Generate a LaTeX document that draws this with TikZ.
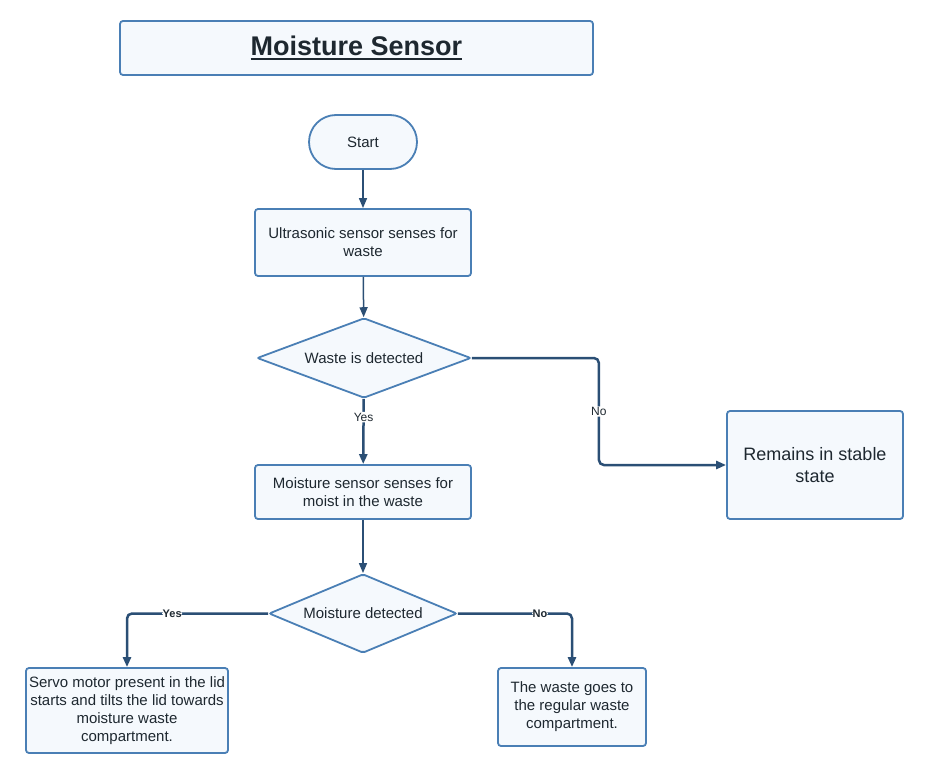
\documentclass[tikz,border=0pt]{standalone}
\usepackage{fontspec}
\setmainfont{Liberation Sans}
\usetikzlibrary{shapes.geometric,arrows.meta}
\definecolor{boxline}{HTML}{4A7FB5}
\definecolor{boxfill}{HTML}{F5F9FD}
\definecolor{arrowline}{HTML}{2B4F75}
\definecolor{txt}{HTML}{1E2830}
\newsavebox{\ulbox}
\newcommand{\ultitle}[1]{\sbox{\ulbox}{#1}\usebox{\ulbox}\llap{\rule[-4pt]{\wd\ulbox}{2pt}}}
\tikzset{
  box/.style={draw=boxline, fill=boxfill, line width=1.8pt, rounded corners=3pt, inner sep=0pt, align=center, text=txt, font=\fontsize{15}{18}\selectfont},
  startbox/.style={box, rounded corners=27pt},
  decision/.style={box, diamond, rounded corners=2pt, aspect=2.7},
  flow/.style={draw=arrowline, line width=1.5pt, -{Triangle[length=10pt,width=8pt]}},
  flowthick/.style={flow, line width=2.5pt, rounded corners=5pt},
  lbl/.style={fill=white, inner sep=1pt, text=txt, font=\fontsize{12}{14}\selectfont},
  lblbold/.style={lbl, inner sep=0.5pt, font=\fontsize{11}{13}\selectfont\bfseries},
}
\begin{document}
\begin{tikzpicture}[x=1pt,y=-1pt]
    \useasboundingbox (0,0) rectangle (926,778);

    % Titulo
    \node[box, minimum width=473pt, minimum height=54pt] (title) at (356.5,48) {\fontsize{27}{32}\selectfont\bfseries\ultitle{Moisture Sensor}};

    % Coluna principal
    \node[startbox, minimum width=108pt, minimum height=54pt] (start) at (363,142) {Start};
    \node[box, minimum width=216pt, minimum height=67pt] (ultra) at (363,242.5) {Ultrasonic sensor senses for\\waste};
    \node[decision, minimum width=214pt, minimum height=80pt] (waste) at (364,358) {Waste is detected};
    \node[box, minimum width=216pt, minimum height=54pt] (moist) at (363,492) {Moisture sensor senses for\\moist in the waste};
    \node[decision, minimum width=188pt, minimum height=79pt] (detect) at (363,613.5) {Moisture detected};

    % Saidas
    \node[box, minimum width=176pt, minimum height=108pt, font=\fontsize{18}{22}\selectfont] (stable) at (815,465) {Remains in stable\\state};
    \node[box, minimum width=202pt, minimum height=85pt] (servo) at (127,710.5) {Servo motor present in the lid\\starts and tilts the lid towards\\moisture waste\\compartment.};
    \node[box, minimum width=148pt, minimum height=78pt] (regular) at (572,707) {The waste goes to\\the regular waste\\compartment.};

    % Setas
    \draw[flow] (start) -- (ultra);
    \draw[flow] (ultra) -- (waste);
    \draw[flowthick] (waste) -- node[lbl, pos=0.28] {Yes} (moist);
    \draw[flowthick] (waste.east) -- ++(127,0) |- node[lbl, pos=0.25] {No} (stable.west);
    \draw[flow] (moist) -- (detect);
    \draw[flowthick] (detect.west) -| node[lblbold, pos=0.34] {Yes} (servo.north);
    \draw[flowthick] (detect.east) -| node[lblbold, pos=0.36] {No} (regular.north);
\end{tikzpicture}
\end{document}
